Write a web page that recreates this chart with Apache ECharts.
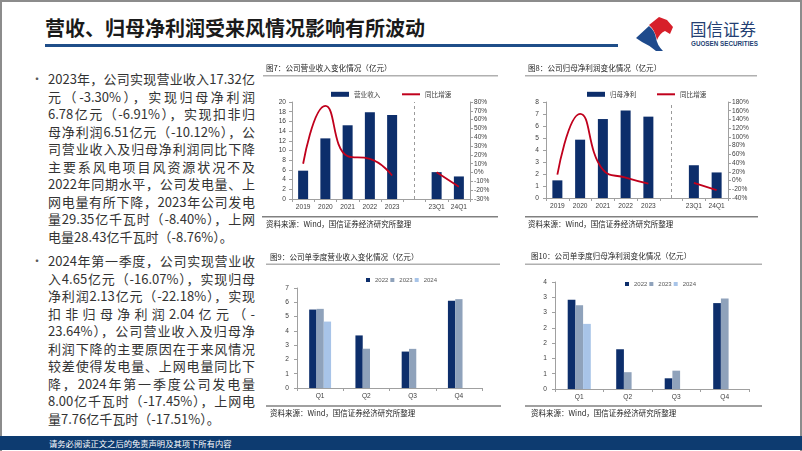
<!DOCTYPE html>
<html><head><meta charset="utf-8">
<script src="https://cdn.jsdelivr.net/npm/echarts@6/dist/echarts.min.js"></script>
<style>
html,body{margin:0;padding:0;}
body{width:802px;height:451px;position:relative;overflow:hidden;background:#fff;font-family:"Noto Sans CJK SC","Noto Sans",sans-serif;}
#frame{position:absolute;left:0;top:0;width:798px;height:449px;border:2px solid #8c8c8c;border-bottom:none;}
#title{position:absolute;left:45px;top:14px;font-size:20px;font-weight:bold;color:#1a1a1a;line-height:28px;white-space:nowrap;}
#uline{position:absolute;left:45px;top:44px;width:573px;height:3px;background:#1f4e89;}
#logoText{position:absolute;left:690px;top:19px;font-size:16.5px;color:#243f73;line-height:20px;white-space:nowrap;}
#logoEn{position:absolute;left:691px;top:40px;font-family:"Liberation Sans",Arial,sans-serif;font-weight:bold;font-size:6.3px;color:#243f73;white-space:nowrap;line-height:8px;}
.para{position:absolute;left:48px;width:207px;font-size:13px;color:#333;}
.ln{height:17.5px;line-height:17.5px;text-align:justify;text-align-last:justify;}
.ln.last{text-align:left;text-align-last:left;}
.bul{position:absolute;left:31px;font-size:12px;color:#595959;line-height:17.5px;}
#footer{position:absolute;left:0;top:436px;width:802px;height:14px;background:#0d3b70;}
#footer span{position:absolute;left:49px;top:0;font-size:8.3px;line-height:14px;color:#fff;white-space:nowrap;}
#chart{position:absolute;left:0;top:0;width:802px;height:451px;}
</style></head>
<body>
<div id="frame"></div>
<div id="title">营收、归母净利润受来风情况影响有所波动</div>
<div id="uline"></div>
<svg style="position:absolute;left:0;top:0" width="802" height="60">
  <path d="M636,38 L649,26 Q655,31 656,38 Q657,45 663,51 L656,51 Q649,45 642,42 Z" fill="#1e4a8c"/>
  <path d="M649,25 L659,17 L667,20 L673,27 L670,34 L665,31 Q660,33 657,40 Q655,30 649,25 Z" fill="#d71f2a"/>
</svg>
<div id="logoText">国信证券</div>
<div id="logoEn">GUOSEN SECURITIES</div>

<div class="bul" style="top:70.25px">•</div>
<div class="para" style="top:70.25px">
<div class="ln">2023年，公司实现营业收入17.32亿</div>
<div class="ln">元（-3.30%），实现归母净利润</div>
<div class="ln">6.78亿元（-6.91%），实现扣非归</div>
<div class="ln">母净利润6.51亿元（-10.12%），公</div>
<div class="ln">司营业收入及归母净利润同比下降</div>
<div class="ln">主要系风电项目风资源状况不及</div>
<div class="ln">2022年同期水平，公司发电量、上</div>
<div class="ln">网电量有所下降，2023年公司发电</div>
<div class="ln">量29.35亿千瓦时（-8.40%），上网</div>
<div class="ln last">电量28.43亿千瓦时（-8.76%）。</div>
</div>
<div class="bul" style="top:252px">•</div>
<div class="para" style="top:252px">
<div class="ln">2024年第一季度，公司实现营业收</div>
<div class="ln">入4.65亿元（-16.07%），实现归母</div>
<div class="ln">净利润2.13亿元（-22.18%），实现</div>
<div class="ln">扣非归母净利润2.04亿元（-</div>
<div class="ln">23.64%），公司营业收入及归母净</div>
<div class="ln">利润下降的主要原因在于来风情况</div>
<div class="ln">较差使得发电量、上网电量同比下</div>
<div class="ln">降，2024年第一季度公司发电量</div>
<div class="ln">8.00亿千瓦时（-17.45%），上网电</div>
<div class="ln last">量7.76亿千瓦时（-17.51%）。</div>
</div>
<div id="footer"><span>请务必阅读正文之后的免责声明及其项下所有内容</span></div>
<div id="chart"></div>
<script>
// ---- data ----
const yearCats = ['2019', '2020', '2021', '2022', '2023', '', '23Q1', '24Q1'];
const revenue = [5.84, 12.5, 15.2, 17.9, 17.32, null, 5.54, 4.65];
const revenueYoy = [10, 75.5, 18.7, 15.5, -3.3, null, 0.3, -16.07];
const netProfit = [1.47, 4.86, 6.58, 7.3, 6.78, null, 2.73, 2.13];
const netProfitYoy = [13.5, 153, 25, 6.6, -6.91, null, -5.5, -22.18];
const quarters = ['Q1', 'Q2', 'Q3', 'Q4'];
const rev2022 = [5.49, 3.68, 2.55, 6.1];
const rev2023 = [5.54, 2.75, 2.74, 6.22];
const rev2024 = [4.65, null, null, null];
const np2022 = [2.92, 1.3, 0.35, 2.81];
const np2023 = [2.74, 0.55, 0.6, 2.96];
const np2024 = [2.13, null, null, null];
const revTicks = {min: 0, max: 20, interval: 2};
const revYoyTicks = {min: -30, max: 80, interval: 10};
const npTicks = {min: 0, max: 8, interval: 1};
const npYoyTicks = {min: -40, max: 180, interval: 20};
const qRevTicks = {min: 0, max: 7, interval: 1};
const qNpTicks = {min: 0, max: 3.5, interval: 0.5};

const NAVY = '#0d2e6b', RED = '#c0001c', GRAY23 = '#8fa2bb', LIGHT24 = '#a8c4e8';
const AX = '#a0a0a0', LBL = '#404040';
const FONT = '"Liberation Sans", Arial, sans-serif';
const CJK = '"Noto Sans CJK SC", sans-serif';

function yAx(grid, t, pos, fmt, margin) {
  return {
    type: 'value', gridIndex: grid, position: pos, min: t.min, max: t.max, interval: t.interval,
    axisLine: {show: true, lineStyle: {color: AX, width: 1}},
    axisTick: {show: true, length: 3, lineStyle: {color: AX}},
    splitLine: {show: false},
    axisLabel: {fontSize: 6.6, color: LBL, fontFamily: FONT, margin: margin, formatter: fmt,
      showMaxLabel: true, showMinLabel: true, hideOverlap: false}
  };
}
function xAx(grid, cats) {
  return {
    type: 'category', gridIndex: grid, data: cats,
    axisLine: {show: true, lineStyle: {color: AX, width: 1}},
    axisTick: {show: true, length: 3, lineStyle: {color: AX}},
    axisLabel: {fontSize: 6.6, color: LBL, fontFamily: FONT, margin: 5, interval: 0}
  };
}
const pct = v => v + '%';
function txt(x, y, s, size) {
  return {type: 'text', left: x, top: y, silent: true,
    style: {text: s, fontSize: size, fill: '#262626', fontFamily: CJK}};
}
function hline(x1, x2, y, color) {
  return {type: 'line', silent: true, shape: {x1: x1, y1: y, x2: x2, y2: y},
    style: {stroke: color, lineWidth: 1.5}};
}
const legText = {fontSize: 6.6, color: LBL, fontFamily: CJK};
const qLegText = {fontSize: 6, color: '#595959', fontFamily: FONT};

const chart = echarts.init(document.getElementById('chart'), null, {renderer: 'canvas'});
chart.setOption({
  animation: false,
  backgroundColor: 'transparent',
  grid: [
    {left: 292, top: 102, width: 178, height: 97},
    {left: 546, top: 102, width: 182, height: 96},
    {left: 297, top: 288, width: 185, height: 100},
    {left: 555, top: 282, width: 194, height: 107}
  ],
  xAxis: [xAx(0, yearCats), xAx(1, yearCats), xAx(2, quarters), xAx(3, quarters)],
  yAxis: [
    yAx(0, revTicks, 'left', null, 6),
    yAx(0, revYoyTicks, 'right', pct, 4),
    yAx(1, npTicks, 'left', null, 7),
    yAx(1, npYoyTicks, 'right', pct, 4),
    yAx(2, qRevTicks, 'left', null, 8),
    yAx(3, qNpTicks, 'left', v => String(Math.round(v)), 8)
  ],
  legend: [
    {left: 326, top: 86, itemWidth: 18, itemHeight: 5, textStyle: legText,
     data: [{name: '营业收入', icon: 'rect'}]},
    {left: 397, top: 86, itemWidth: 18, itemHeight: 2, textStyle: legText,
     data: [{name: '同比增速', icon: 'rect'}]},
    {left: 582, top: 86, itemWidth: 18, itemHeight: 5, textStyle: legText,
     data: [{name: '归母净利', icon: 'rect'}]},
    {left: 652, top: 86, itemWidth: 18, itemHeight: 2, textStyle: legText,
     data: [{name: '同比增速 ', icon: 'rect'}]},
    {left: 361, top: 272, itemWidth: 4, itemHeight: 4, itemGap: 2, textStyle: qLegText,
     data: [{name: '2022', icon: 'rect'}, {name: '2023', icon: 'rect'}, {name: '2024', icon: 'rect'}]},
    {left: 620, top: 276, itemWidth: 4, itemHeight: 4, itemGap: 2, textStyle: qLegText,
     data: [{name: '2022', icon: 'rect'}, {name: '2023', icon: 'rect'}, {name: '2024', icon: 'rect'}]}
  ],
  series: [
    {name: '营业收入', type: 'bar', xAxisIndex: 0, yAxisIndex: 0, data: revenue, barWidth: 10,
     itemStyle: {color: NAVY},
     markLine: {silent: true, symbol: ['none', 'none'], label: {show: false},
       lineStyle: {type: [3, 3], color: '#9a9a9a', width: 1}, data: [{xAxis: 5}]}},
    {name: '同比增速', type: 'line', xAxisIndex: 0, yAxisIndex: 1, data: revenueYoy, smooth: true,
     symbol: 'none', connectNulls: false, lineStyle: {color: RED, width: 1.8}, itemStyle: {color: RED}},
    {name: '归母净利', type: 'bar', xAxisIndex: 1, yAxisIndex: 2, data: netProfit, barWidth: 10,
     itemStyle: {color: NAVY},
     markLine: {silent: true, symbol: ['none', 'none'], label: {show: false},
       lineStyle: {type: [3, 3], color: '#9a9a9a', width: 1}, data: [{xAxis: 5}]}},
    {name: '同比增速 ', type: 'line', xAxisIndex: 1, yAxisIndex: 3, data: netProfitYoy, smooth: true,
     symbol: 'none', connectNulls: false, lineStyle: {color: RED, width: 1.8}, itemStyle: {color: RED}},
    {name: '2022', type: 'bar', xAxisIndex: 2, yAxisIndex: 4, data: rev2022, barWidth: 7.3, barGap: '0%', itemStyle: {color: NAVY}},
    {name: '2023', type: 'bar', xAxisIndex: 2, yAxisIndex: 4, data: rev2023, barWidth: 7.3, barGap: '0%', itemStyle: {color: GRAY23}},
    {name: '2024', type: 'bar', xAxisIndex: 2, yAxisIndex: 4, data: rev2024, barWidth: 7.3, barGap: '0%', itemStyle: {color: LIGHT24}},
    {name: '2022', type: 'bar', xAxisIndex: 3, yAxisIndex: 5, data: np2022, barWidth: 7.7, barGap: '0%', itemStyle: {color: NAVY}},
    {name: '2023', type: 'bar', xAxisIndex: 3, yAxisIndex: 5, data: np2023, barWidth: 7.7, barGap: '0%', itemStyle: {color: GRAY23}},
    {name: '2024', type: 'bar', xAxisIndex: 3, yAxisIndex: 5, data: np2024, barWidth: 7.7, barGap: '0%', itemStyle: {color: LIGHT24}}
  ],
  graphic: [
    txt(266, 64, '图7：公司营业收入变化情况（亿元）', 7.6),
    hline(263, 498, 75.7, '#b0b0b0'),
    hline(262, 498, 216.7, '#808080'),
    txt(266, 220.5, '资料来源：Wind，国信证券经济研究所整理', 7.5),
    txt(528, 64, '图8：公司归母净利润变化情况（亿元）', 7.6),
    hline(525, 757, 75.7, '#b0b0b0'),
    hline(525, 758, 216.7, '#808080'),
    txt(528, 220.5, '资料来源：Wind，国信证券经济研究所整理', 7.5),
    txt(270, 253, '图9：公司单季度营业收入变化情况（亿元）', 7.6),
    hline(266, 500, 264.3, '#b0b0b0'),
    hline(266, 501, 406, '#808080'),
    txt(270, 409.5, '资料来源：Wind，国信证券经济研究所整理', 7.5),
    txt(531, 252, '图10：公司单季度归母净利润变化情况（亿元）', 7.6),
    hline(525, 762, 264.3, '#b0b0b0'),
    hline(525, 762, 406, '#808080'),
    txt(531, 409.5, '资料来源：Wind，国信证券经济研究所整理', 7.5)
  ]
});
</script>
</body></html>
